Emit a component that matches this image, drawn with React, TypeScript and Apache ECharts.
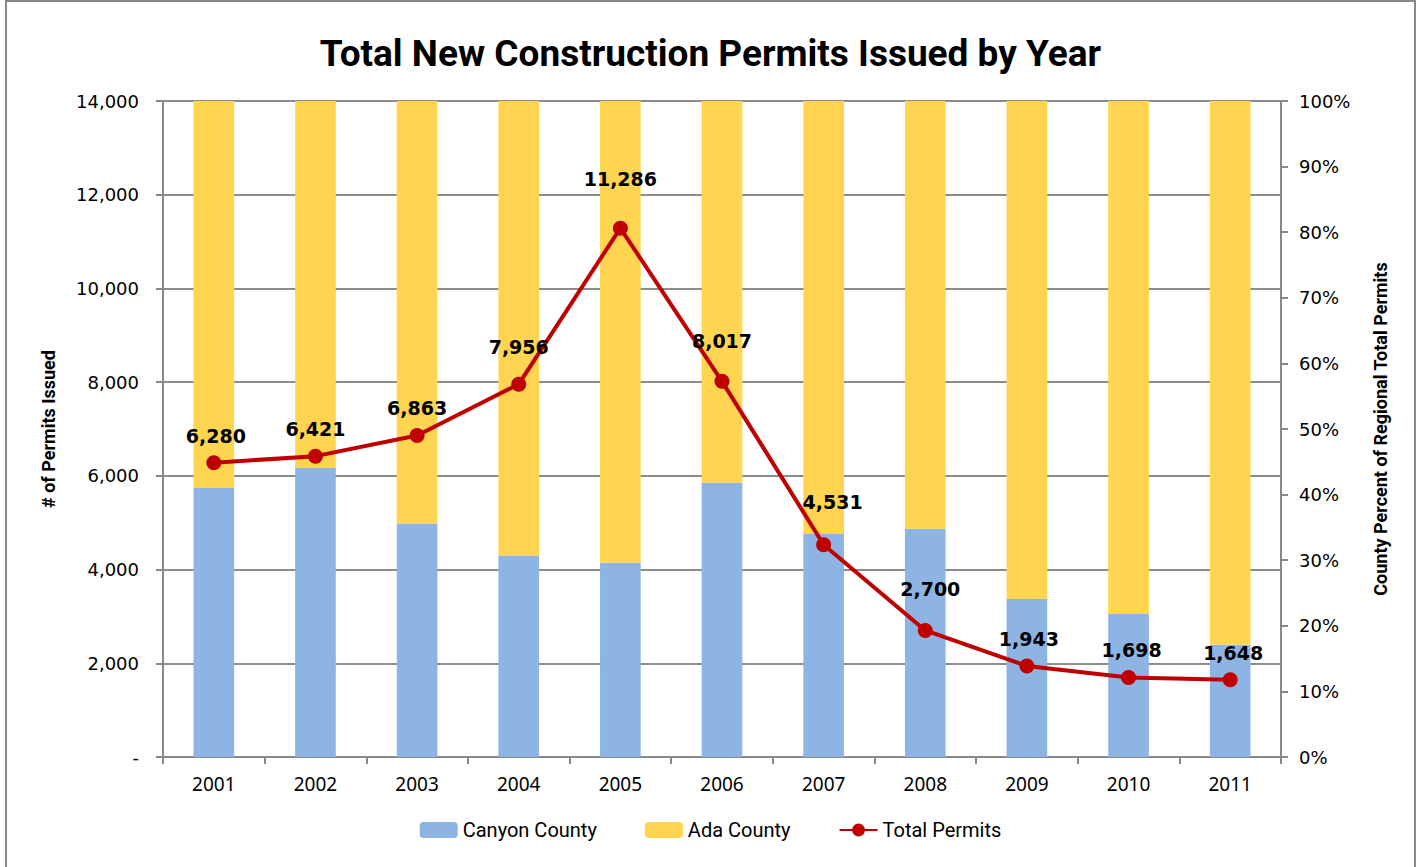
import React, { useEffect, useRef } from "react";
import * as echarts from "echarts";

const years = ["2001", "2002", "2003", "2004", "2005", "2006", "2007", "2008", "2009", "2010", "2011"];
const canyonPct = [41.0, 44.1, 35.6, 30.7, 29.6, 41.8, 34.0, 34.8, 24.1, 21.8, 17.1];
const adaPct = [59.0, 55.9, 64.4, 69.3, 70.4, 58.2, 66.0, 65.2, 75.9, 78.2, 82.9];
const totalPermits = [6280, 6421, 6863, 7956, 11286, 8017, 4531, 2700, 1943, 1698, 1648];

// label placement (style only): extra lift and horizontal shift of each data label
const labelLift = [0, 0, 0, 10, 22, 13, 16, 14, 0, 0, 0];
const labelShift = [2, 0, 0, 0, 0, 0, 9, 5, 2, 3, 3];

const leftTicks = { min: 0, max: 14000, interval: 2000 };
const rightTicks = { min: 0, max: 100, interval: 10 };

const NARROW = "'Liberation Sans Narrow', 'Roboto', sans-serif";
const VERDANA = "'DejaVu Sans', 'Verdana', sans-serif";

export default function App() {
  const ref = useRef<HTMLDivElement>(null);
  useEffect(() => {
    if (!ref.current) return;
    const chart = echarts.init(ref.current, null, { renderer: "svg" });
    const fmt = (v: number) => (v === 0 ? "-" : v.toLocaleString("en-US"));
    const lineData = totalPermits.map((v, i) => ({
      value: v,
      label: { offset: [labelShift[i], -labelLift[i]] },
    }));
    chart.setOption({
      animation: false,
      backgroundColor: "#ffffff",
      title: {
        text: "Total New Construction Permits Issued by Year",
        left: "center",
        top: 30,
        textStyle: { fontFamily: NARROW, fontWeight: "bold", fontSize: 37, color: "#000" },
      },
      graphic: [
        {
          type: "rect",
          shape: { x: 6, y: 1, width: 1409, height: 900 },
          style: { fill: "none", stroke: "#888888", lineWidth: 2 },
          silent: true,
        },
      ],
      legend: {
        bottom: 22,
        left: "center",
        itemWidth: 38,
        itemHeight: 16,
        itemGap: 48,
        textStyle: { fontFamily: NARROW, fontSize: 20, color: "#000" },
        data: ["Canyon County", "Ada County", "Total Permits"],
      },
      grid: { left: 163, right: 140, top: 101, bottom: 110 },
      xAxis: {
        type: "category",
        data: years,
        boundaryGap: true,
        axisLine: { lineStyle: { color: "#888", width: 2 } },
        axisTick: { show: true, length: 7, lineStyle: { color: "#888", width: 2 } },
        axisLabel: { fontFamily: "'Noto Sans', sans-serif", fontSize: 19, color: "#000", margin: 17 },
      },
      yAxis: [
        {
          type: "value",
          min: leftTicks.min,
          max: leftTicks.max,
          interval: leftTicks.interval,
          name: "# of Permits Issued",
          nameLocation: "middle",
          nameRotate: 90,
          nameGap: 106,
          nameTextStyle: { fontFamily: NARROW, fontWeight: "bold", fontSize: 18, color: "#000" },
          axisLine: { show: true, lineStyle: { color: "#888", width: 2 } },
          axisTick: { show: true, length: 7, lineStyle: { color: "#888", width: 2 } },
          splitLine: { show: true, lineStyle: { color: "#8c8c8c", width: 2 } },
          axisLabel: { fontFamily: VERDANA, fontSize: 18, color: "#000", margin: 24, formatter: fmt },
        },
        {
          type: "value",
          min: rightTicks.min,
          max: rightTicks.max,
          interval: rightTicks.interval,
          position: "right",
          name: "County Percent of Regional Total Permits",
          nameLocation: "middle",
          nameRotate: 90,
          nameGap: 90,
          nameTextStyle: { fontFamily: NARROW, fontWeight: "bold", fontSize: 18, color: "#000" },
          axisLine: { show: true, lineStyle: { color: "#888", width: 2 } },
          axisTick: { show: true, length: 7, lineStyle: { color: "#888", width: 2 } },
          splitLine: { show: false },
          axisLabel: { fontFamily: VERDANA, fontSize: 18, color: "#000", margin: 18, formatter: (v: number) => v + "%" },
        },
      ],
      series: [
        {
          name: "Canyon County",
          type: "bar",
          yAxisIndex: 1,
          stack: "pct",
          barWidth: "40%",
          itemStyle: { color: "#8EB4E3" },
          data: canyonPct,
        },
        {
          name: "Ada County",
          type: "bar",
          yAxisIndex: 1,
          stack: "pct",
          barWidth: "40%",
          itemStyle: { color: "#FFD450" },
          data: adaPct,
        },
        {
          name: "Total Permits",
          type: "line",
          yAxisIndex: 0,
          data: lineData,
          symbol: "circle",
          symbolSize: 15,
          lineStyle: { color: "#C00000", width: 4 },
          itemStyle: { color: "#C00000" },
          label: {
            show: true,
            position: "top",
            distance: 10,
            fontFamily: VERDANA,
            fontWeight: "bold",
            fontSize: 19,
            color: "#000",
            formatter: (p: any) => Number(p.value).toLocaleString("en-US"),
          },
          z: 5,
        },
      ],
    });
    return () => chart.dispose();
  }, []);
  return (
    <div
      ref={ref}
      style={{ position: "absolute", left: 0, top: 0, width: 1421, height: 867 }}
    />
  );
}
